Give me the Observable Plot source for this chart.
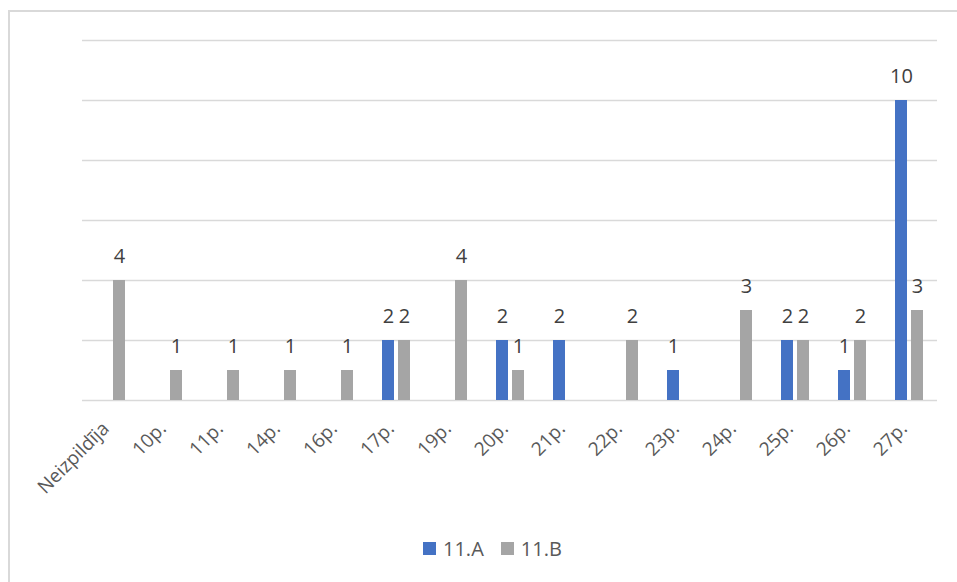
<!DOCTYPE html>
<html><head><meta charset="utf-8">
<script src="https://cdn.jsdelivr.net/npm/d3@7"></script>
<script src="https://cdn.jsdelivr.net/npm/@observablehq/plot@0.6"></script>
<style>
body{margin:0;background:#fff;font-family:"Open Sans",sans-serif;overflow:hidden;}
#frame{position:absolute;left:8px;top:10px;width:1000px;height:620px;border-left:2px solid #d9d9d9;border-top:2px solid #d9d9d9;}
#chart{position:absolute;left:0;top:0;}
#legend{position:absolute;left:423px;top:535px;display:flex;align-items:center;font-size:20px;color:#595959;}
#legend .sw{width:13px;height:13px;display:inline-block;margin-right:7px;}
#legend .item{display:flex;align-items:center;margin-right:17px;}
</style></head>
<body>
<div id="frame"></div>
<div id="chart"></div>
<div id="legend"></div>
<script>
const categories = ["Neizpildīja","10p.","11p.","14p.","16p.","17p.","19p.","20p.","21p.","22p.","23p.","24p.","25p.","26p.","27p."];
const seriesNames = ["11.A","11.B"];
const valuesA = [0,0,0,0,0,2,0,2,2,0,1,0,2,1,10];
const valuesB = [4,1,1,1,1,2,4,1,0,2,0,3,2,2,3];
const yTicks = [0,2,4,6,8,10,12];
const colors = ["#4472C4","#A5A5A5"];

const data = [];
categories.forEach((c,i)=>{
  data.push({cat:c, series:seriesNames[0], value:valuesA[i]});
  data.push({cat:c, series:seriesNames[1], value:valuesB[i]});
});

const chart = Plot.plot({
  width:957, height:525,
  marginLeft:79, marginRight:17, marginTop:40, marginBottom:125,
  style:{fontFamily:"Open Sans", background:"transparent"},
  fx:{domain:categories, padding:0, label:null},
  x:{domain:seriesNames, paddingInner:0.256, paddingOuter:0.836, axis:null},
  y:{domain:[0,12], axis:null},
  color:{domain:seriesNames, range:colors},
  marks:[
    Plot.ruleY(yTicks,{stroke:"#d9d9d9", strokeWidth:1.5, strokeOpacity:1}),
    Plot.barY(data,{fx:"cat", x:"series", y:"value", fill:"series"}),
    Plot.text(data.filter(d=>d.value>0),{fx:"cat", x:"series", y:"value", text:d=>String(d.value), lineAnchor:"bottom", dy:-18, fontSize:20, fill:"#404040"}),
    Plot.axisFx({anchor:"bottom", tickRotate:-45, tickSize:0, tickPadding:22, dx:-5, dy:3, fontSize:19, fill:"#595959", label:null})
  ]
});
document.getElementById("chart").appendChild(chart);

const leg = document.getElementById("legend");
seriesNames.forEach((s,i)=>{
  const it = document.createElement("div"); it.className="item";
  const sw = document.createElement("span"); sw.className="sw"; sw.style.background=colors[i];
  const tx = document.createElement("span"); tx.textContent=s;
  it.appendChild(sw); it.appendChild(tx); leg.appendChild(it);
});
</script>
</body></html>
